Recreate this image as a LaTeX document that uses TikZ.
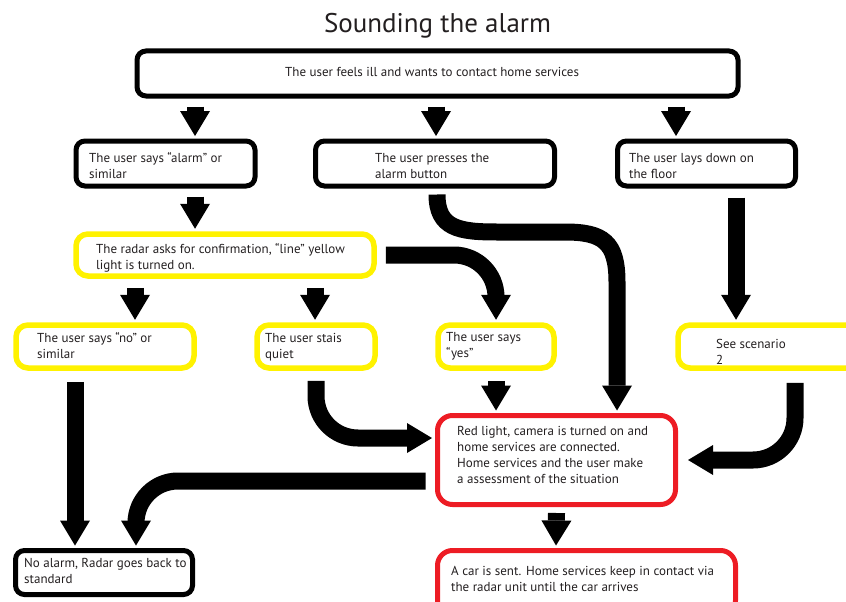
\documentclass[tikz,border=0pt]{standalone}
\usepackage{fontspec}
\setmainfont{PT Sans}
\usetikzlibrary{arrows.meta}
\definecolor{alarmyellow}{HTML}{FFF200}
\definecolor{alarmred}{HTML}{ED1C24}
\definecolor{ink}{HTML}{231F20}
\newcommand\mylines[1]{\begin{tabular}[t]{@{}l@{}}#1\end{tabular}}
\begin{document}
\begin{tikzpicture}[x=1pt,y=-1pt,
  blackbox/.style={draw=black, line width=5pt, rounded corners=9pt, inner sep=0pt},
  yellowbox/.style={draw=alarmyellow, line width=5.5pt, rounded corners=12pt, inner sep=0pt},
  redbox/.style={draw=alarmred, line width=5pt, rounded corners=15pt, inner sep=0pt},
  txt/.style={inner sep=0pt, anchor=base west, text=ink, font=\fontsize{13}{16}\selectfont},
  fat/.style={line width=17pt, -{Triangle[width=30pt,length=25pt,line width=0pt]}},
  curvy/.style={fat, rounded corners=42pt}]
\useasboundingbox (0,0) rectangle (846,602);
\clip (0,0) rectangle (846,602);

% title
\node[txt, anchor=base, font=\fontsize{27}{30}\selectfont] (title) at (437.5,33) {Sounding the alarm};

% boxes
\node[blackbox, minimum width=601pt, minimum height=45pt] (top) at (437.5,73.5) {};
\node[blackbox, minimum width=179pt, minimum height=45pt] (A) at (165.5,163.5) {};
\node[blackbox, minimum width=239pt, minimum height=45pt] (B) at (435,163.5) {};
\node[blackbox, minimum width=178pt, minimum height=45pt] (C) at (706.5,163.5) {};
\node[yellowbox, minimum width=298pt, minimum height=42pt] (R) at (225,255) {};
\node[yellowbox, minimum width=178pt, minimum height=43pt] (N) at (105,346.5) {};
\node[yellowbox, minimum width=118pt, minimum height=43pt] (Q) at (316,346.5) {};
\node[yellowbox, minimum width=116pt, minimum height=43pt] (Y) at (496,346.5) {};
\node[yellowbox, minimum width=182pt, minimum height=43pt] (S) at (769,346.5) {};
\node[redbox, minimum width=238pt, minimum height=89pt] (E) at (556.5,460) {};
\node[blackbox, minimum width=177pt, minimum height=44pt] (F) at (104,572.5) {};
\node[redbox, minimum width=298pt, minimum height=65pt] (G) at (586.5,583) {};

% texts
\node[txt] (ttop) at (285,77) {The user feels ill and wants to contact home services};
\node[txt] (tA) at (89,162) {\mylines{The user says “alarm” or\\similar}};
\node[txt] (tB) at (375,162) {\mylines{The user presses the\\alarm button}};
\node[txt] (tC) at (629,162) {\mylines{The user lays down on\\the floor}};
\node[txt] (tR) at (96,253) {\mylines{The radar asks for confirmation, “line” yellow\\light is turned on.}};
\node[txt] (tN) at (37,342) {\mylines{The user says “no” or\\similar}};
\node[txt] (tQ) at (265,342) {\mylines{The user stais\\quiet}};
\node[txt] (tY) at (446,341) {\mylines{The user says\\“yes”}};
\node[txt] (tS) at (716,348) {\mylines{See scenario\\2}};
\node[txt] (tE) at (457,435) {\mylines{Red light, camera is turned on and\\home services are connected.\\Home services and the user make\\a assessment of the situation}};
\node[txt] (tF) at (24,567) {\mylines{No alarm, Radar goes back to\\standard}};
\node[txt] (tG) at (451,575) {\mylines{A car is sent. Home services keep in contact via\\the radar unit until the car arrives}};

% straight connectors
\draw[fat] ([xshift=-242.5pt,yshift=-8pt]top.south) -- ([xshift=29.5pt,yshift=2.5pt]A.north);
\draw[fat] ([xshift=-1.5pt,yshift=-8pt]top.south) -- ([xshift=1pt,yshift=2.5pt]B.north);
\draw[fat] ([xshift=238.5pt,yshift=-8pt]top.south) -- ([xshift=-30.5pt,yshift=2.5pt]C.north);
\draw[fat] ([xshift=29.5pt,yshift=-8pt]A.south) -- ([xshift=-30pt,yshift=2.5pt]R.north);
\draw[fat] ([xshift=-90pt,yshift=-9pt]R.south) -- ([xshift=30pt,yshift=2.5pt]N.north);
\draw[fat] ([xshift=90pt,yshift=-9pt]R.south) -- ([xshift=-1pt,yshift=2.5pt]Q.north);
\draw[fat] ([xshift=29.5pt,yshift=-9pt]C.south) -- ([xshift=-33pt,yshift=2.5pt]S.north);
\draw[fat] ([xshift=-30pt,yshift=-11pt]N.south) -- ([xshift=-29pt,yshift=2.5pt]F.north);
\draw[fat] ([yshift=-10pt]Y.south) -- ([xshift=-60.5pt,yshift=2.5pt]E.north);
\draw[fat] ([yshift=-6pt]E.south) -- ([xshift=-30.5pt,yshift=2.5pt]G.north);

% curved connectors
\draw[curvy] ([xshift=9pt]R.east) -| ([yshift=2.5pt]Y.north);
\draw[fat] ([xshift=2pt,yshift=-6pt]B.south) .. controls +(0,34) and +(-38,0) .. (497,232)
  -- (565,232) .. controls +(38,0) and +(0,-40) .. (617,282)
  -- ([xshift=60.5pt,yshift=2.5pt]E.north);
\draw[curvy] ([yshift=-10pt]Q.south) |- ([xshift=-3pt,yshift=22pt]E.west);
\draw[curvy] ([xshift=26pt,yshift=-12pt]S.south) |- ([xshift=10pt]E.east);
\draw[curvy] ([xshift=-9.5pt,yshift=-21pt]E.west) -| ([xshift=32pt,yshift=2.5pt]F.north);
\end{tikzpicture}
\end{document}
